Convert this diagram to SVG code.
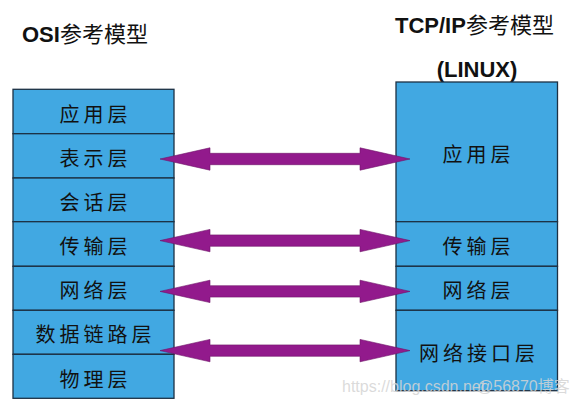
<svg xmlns="http://www.w3.org/2000/svg" xmlns:xlink="http://www.w3.org/1999/xlink" width="584" height="411" viewBox="0 0 584 411">
<style>
.box{fill:#41A8E2;stroke:#1d3144;stroke-width:1.3}
.lbl{font-family:"Noto Sans CJK SC","Noto Sans CJK JP",sans-serif;font-size:20px;letter-spacing:4px;fill:#111;text-anchor:middle}
.title{font-family:"Liberation Sans","Noto Sans CJK SC",sans-serif;font-size:22px;font-weight:bold;fill:#111}
.arrow{fill:#921A8C;stroke:#6e1468;stroke-width:0.6}
.wm{font-family:"Liberation Sans","Noto Sans CJK SC",sans-serif;font-size:16px;fill:#d4d4d4;fill-opacity:0.85}
</style>
<defs>
<path id="arrow" d="M160,0 L210,-11.2 L210,-5.7 L360,-5.7 L360,-11.2 L410,0 L360,11.2 L360,5.7 L210,5.7 L210,11.2 Z"/>
</defs>
<rect width="584" height="411" fill="#ffffff"/>
<text class="title" x="22" y="42">OSI<tspan font-weight="normal">参考模型</tspan></text>
<text class="title" x="395" y="33">TCP/IP<tspan font-weight="normal">参考模型</tspan></text>
<text class="title" x="477" y="77" text-anchor="middle">(LINUX)</text>

<g id="osi-app"><rect class="box" x="13" y="89.3" width="161" height="44.4"/><text class="lbl" x="95.5" y="122">应用层</text></g>
<g id="osi-pres"><rect class="box" x="13" y="133.7" width="161" height="44.3"/><text class="lbl" x="95.5" y="165.5">表示层</text></g>
<g id="osi-sess"><rect class="box" x="13" y="178" width="161" height="43.7"/><text class="lbl" x="95.5" y="210">会话层</text></g>
<g id="osi-trans"><rect class="box" x="13" y="221.7" width="161" height="44.6"/><text class="lbl" x="95.5" y="254">传输层</text></g>
<g id="osi-net"><rect class="box" x="13" y="266.3" width="161" height="44"/><text class="lbl" x="95.5" y="298">网络层</text></g>
<g id="osi-link"><rect class="box" x="13" y="310.3" width="161" height="44"/><text class="lbl" x="95.5" y="342">数据链路层</text></g>
<g id="osi-phys"><rect class="box" x="13" y="354.3" width="161" height="44"/><text class="lbl" x="95.5" y="386.5">物理层</text></g>

<g id="tcp-app"><rect class="box" x="396" y="82" width="161.5" height="139.7"/><text class="lbl" x="478.5" y="162">应用层</text></g>
<g id="tcp-trans"><rect class="box" x="396" y="221.7" width="161.5" height="44.6"/><text class="lbl" x="478.5" y="254">传输层</text></g>
<g id="tcp-net"><rect class="box" x="396" y="266.3" width="161.5" height="44"/><text class="lbl" x="478.5" y="298">网络层</text></g>
<g id="tcp-if"><rect class="box" x="396" y="310.3" width="161.5" height="80.4"/><text class="lbl" x="479" y="361">网络接口层</text></g>

<g id="connectors">
<use xlink:href="#arrow" class="arrow" transform="translate(0,159)"/>
<use xlink:href="#arrow" class="arrow" transform="translate(0,240.6)"/>
<use xlink:href="#arrow" class="arrow" transform="translate(0,291.4)"/>
<use xlink:href="#arrow" class="arrow" transform="translate(0,350.6)"/>
</g>

<g id="watermark">
<text class="wm" x="342" y="392">https://blog.csdn.net</text>
<text class="wm" x="477" y="392">@56870博客</text>
</g>
</svg>
